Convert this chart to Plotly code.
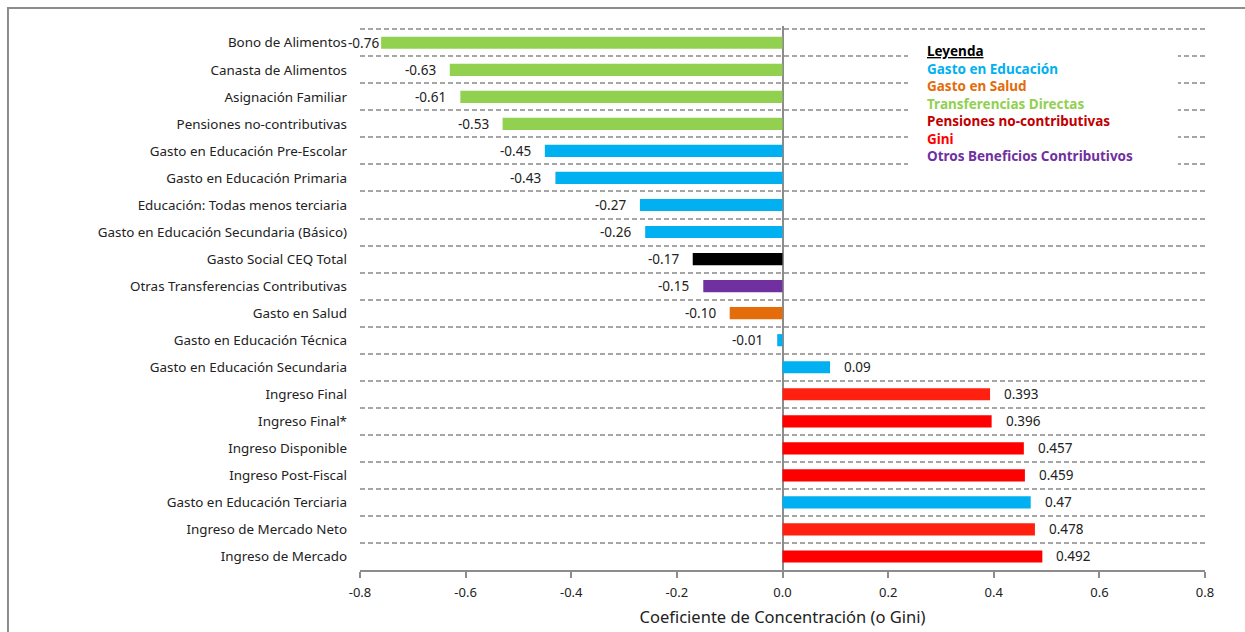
import plotly.graph_objects as go

categories = [
    "Bono de Alimentos", "Canasta de Alimentos", "Asignación Familiar",
    "Pensiones no-contributivas", "Gasto en Educación Pre-Escolar",
    "Gasto en Educación Primaria", "Educación: Todas menos terciaria",
    "Gasto en Educación Secundaria (Básico)", "Gasto Social CEQ Total",
    "Otras Transferencias Contributivas", "Gasto en Salud",
    "Gasto en Educación Técnica", "Gasto en Educación Secundaria",
    "Ingreso Final", "Ingreso Final*", "Ingreso Disponible",
    "Ingreso Post-Fiscal", "Gasto en Educación Terciaria",
    "Ingreso de Mercado Neto", "Ingreso de Mercado",
]
values = [-0.76, -0.63, -0.61, -0.53, -0.45, -0.43, -0.27, -0.26, -0.17, -0.15,
          -0.10, -0.01, 0.09, 0.393, 0.396, 0.457, 0.459, 0.47, 0.478, 0.492]
labels = ["-0.76", "-0.63", "-0.61", "-0.53", "-0.45", "-0.43", "-0.27", "-0.26",
          "-0.17", "-0.15", "-0.10", "-0.01", "0.09", "0.393", "0.396", "0.457",
          "0.459", "0.47", "0.478", "0.492"]
groups = ["trans", "trans", "trans", "trans", "edu", "edu", "edu", "edu", "total",
          "otros", "salud", "edu", "edu", "gini2", "gini", "gini", "gini", "edu",
          "gini2", "gini"]
group_colors = {"trans": "#92D050", "edu": "#00B0F0", "total": "#000000",
                "otros": "#7030A0", "salud": "#E46C0A", "gini": "#FF0000",
                "gini2": "#FF2010"}
legend_items = [("Gasto en Educación", "#00B0F0"), ("Gasto en Salud", "#E46C0A"),
                ("Transferencias Directas", "#92D050"),
                ("Pensiones no-contributivas", "#C00000"), ("Gini", "#FF0000"),
                ("Otros Beneficios Contributivos", "#7030A0")]
x_ticks = [-0.8, -0.6, -0.4, -0.2, 0.0, 0.2, 0.4, 0.6, 0.8]
x_ticktext = ["-0.8", "-0.6", "-0.4", "-0.2", "0.0", "0.2", "0.4", "0.6", "0.8"]

FONT = "Noto Sans"

fig = go.Figure()
fig.add_trace(go.Bar(
    y=categories, x=values, orientation="h",
    marker=dict(color=[group_colors[g] for g in groups], line=dict(width=0)),
    hoverinfo="x+y",
))

for cat, v, lab in zip(categories, values, labels):
    gap = 0 if abs(v) > 0.7 else 12
    fig.add_annotation(
        x=v, y=cat, xref="x", yref="y", text=lab, showarrow=False,
        xanchor="left" if v >= 0 else "right",
        xshift=gap if v >= 0 else -gap,
        font=dict(family=FONT, size=13.5, color="#222222"),
    )

legend_text = "<b><u>Leyenda</u></b>"
for name, col in legend_items:
    legend_text += f"<br><b><span style='color:{col}'>{name}</span></b>"
fig.add_annotation(
    x=0.669, y=0.975, xref="paper", yref="paper", xanchor="left", yanchor="top",
    text=legend_text, showarrow=False, align="left",
    font=dict(family=FONT, size=13.5, color="#000000"),
)

fig.update_layout(
    width=1245, height=632,
    margin=dict(l=360, r=40, t=26, b=62),
    paper_bgcolor="white", plot_bgcolor="white",
    bargap=0.55, showlegend=False,
    font=dict(family=FONT, size=13, color="#222222"),
    shapes=[
        dict(type="rect", xref="paper", yref="paper", x0=0.6485, x1=0.968,
             y0=0.725, y1=0.975, fillcolor="white", line=dict(width=0),
             layer="above"),
        dict(type="rect", xref="paper", yref="paper", x0=-0.4166, x1=1.2,
             y0=-0.3, y1=1.033, line=dict(color="#8C8C8C", width=2),
             fillcolor="rgba(0,0,0,0)", layer="below"),
    ],
)
fig.update_xaxes(
    range=[-0.8, 0.8], tickvals=x_ticks, ticktext=x_ticktext, automargin=False,
    showgrid=False, zeroline=True, zerolinecolor="#8C8C8C", zerolinewidth=2,
    showline=True, linecolor="#8C8C8C", linewidth=2,
    ticks="outside", ticklen=6, tickcolor="#8C8C8C", tickwidth=1.5,
    ticklabelstandoff=3,
    tickfont=dict(family=FONT, size=13, color="#222222"),
    title=dict(text="Coeficiente de Concentración (o Gini)",
               font=dict(family=FONT, size=16.5, color="#222222"), standoff=12),
)
fig.update_yaxes(
    type="category", range=[19.5, -0.62], tickson="boundaries", automargin=False,
    showgrid=True, gridcolor="#A6A6A6", gridwidth=2, griddash="5px,3px",
    ticks="", showline=False, ticklabelstandoff=12,
    tickfont=dict(family=FONT, size=13.4, color="#222222"),
)

fig.write_html("out.html")
